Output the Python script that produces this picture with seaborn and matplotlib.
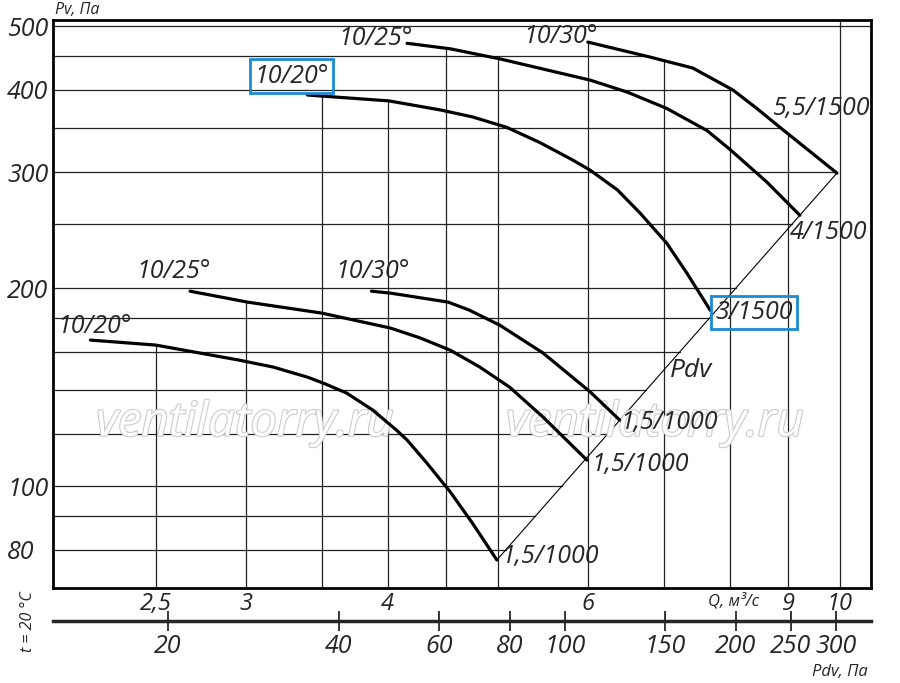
import numpy as np
import pandas as pd
import seaborn as sns
import matplotlib
matplotlib.use('Agg')
import matplotlib.pyplot as plt
import matplotlib.patheffects as pe
from matplotlib.ticker import NullLocator

# fan curves: Q in m3/s, Pv in Pa
a_q = [3.40, 4.01, 4.45, 4.75, 5.09, 5.44, 5.82, 6.03, 6.37, 6.67, 7.04, 7.33, 7.69]
a_p = [393, 385, 373, 364, 351, 333, 313, 302, 282, 260, 234, 211, 185]
b_q = [4.16, 4.54, 5.02, 6.03, 6.50, 7.04, 7.64, 8.00, 8.62, 9.22]
b_p = [471, 462, 446, 414, 397, 375, 347, 325, 290, 258]
c_q = [6.00, 6.80, 7.42, 8.05, 8.45, 8.91, 9.94]
c_p = [473, 449, 432, 400, 375, 348, 299]
d_q = [2.19, 2.50, 2.96, 3.17, 3.40, 3.51, 3.68, 3.88, 4.07, 4.16, 4.33, 4.54, 4.75, 4.99]
d_p = [166.7, 163.8, 155.4, 151.7, 146.4, 143.4, 138.5, 130.5, 121.7, 117.5, 108.4, 98.0, 87.8, 77.2]
e_q = [2.68, 3.01, 3.50, 4.02, 4.27, 4.54, 4.82, 5.12, 5.48, 5.99]
e_p = [197.8, 190.4, 183.2, 173.9, 168.0, 160.9, 151.7, 141.4, 127.3, 109.5]
f_q = [3.87, 4.02, 4.52, 4.72, 5.02, 5.48, 6.03, 6.40]
f_p = [197.8, 196.5, 190.4, 185.1, 175.6, 159.3, 139.0, 126.0]

start_labels = ['10/20°', '10/25°', '10/30°', '10/20°', '10/25°', '10/30°']
end_labels = ['3/1500', '4/1500', '5,5/1500', '1,5/1000', '1,5/1000', '1,5/1000']

# dynamic pressure line (end points of the curves)
pdv_q = [4.99, 9.94]
pdv_p = [77.2, 299.1]
pdv_k = 3.05   # Pdv = k * Q^2 for the lower scale

q_ticks = [2.5, 3, 4, 6, 9, 10]
q_ticklabels = ['2,5', '3', '4', '6', '9', '10']
q_grid = [2.5, 3, 3.5, 4, 4.5, 5, 6, 7, 8, 9, 10]
p_ticks = [80, 100, 200, 300, 400, 500]
p_grid = [80, 90, 100, 120, 140, 160, 180, 200, 250, 300, 350, 400, 450, 500]
pdv_ticks = [20, 40, 60, 80, 100, 150, 200, 250, 300]

curves = [(a_q, a_p), (b_q, b_p), (c_q, c_p), (d_q, d_p), (e_q, e_p), (f_q, f_p)]

sns.set_style('white')
plt.rcParams['font.family'] = ['Open Sans', 'DejaVu Sans']
plt.rcParams['font.style'] = 'italic'

fig = plt.figure(figsize=(9, 6.83), dpi=100)
ax = fig.add_axes([53 / 900, 95 / 683, 818 / 900, 568 / 683])
ax.set_xscale('log')
ax.set_yscale('log')
xmin, xmax = 2.03, 10.65
ymin, ymax = 70, 511

df = pd.concat([pd.DataFrame({'curve': i, 'Q': q, 'P': p})
                for i, (q, p) in enumerate(curves)])
sns.lineplot(data=df, x='Q', y='P', units='curve', estimator=None, sort=False,
             color='black', lw=2.3, ax=ax, zorder=4)


def diag_q(p):
    lq, lp = np.log10(pdv_q), np.log10(pdv_p)
    s = (lp[1] - lp[0]) / (lq[1] - lq[0])
    return 10 ** (lq[0] + (np.log10(p) - lp[0]) / s)


# grid only inside the working area (under curves, left of Pdv line)
for q in q_grid:
    tops = [10 ** np.interp(np.log10(q), np.log10(cq), np.log10(cp))
            for cq, cp in curves if cq[0] <= q <= cq[-1]]
    top = max(tops) if tops else ymax
    ax.plot([q, q], [ymin, top], color='#222222', lw=0.9, zorder=1)

for p in p_grid:
    ends = []
    for cq, cp in curves:
        if p > cp[0]:
            continue
        if p >= cp[-1]:
            ends.append(10 ** np.interp(np.log10(p), np.log10(cp[::-1]), np.log10(cq[::-1])))
        else:
            ends.append(diag_q(p))
    right = max(ends) if ends else xmax
    ax.plot([xmin, right], [p, p], color='#222222', lw=0.9, zorder=1)

ax.plot(pdv_q, pdv_p, color='black', lw=0.8, zorder=2)

ax.set_xlim(xmin, xmax)
ax.set_ylim(ymin, ymax)
ax.set_xlabel('')
ax.set_ylabel('')

ax.set_yticks(p_ticks)
ax.set_yticklabels([str(v) for v in p_ticks])
ax.yaxis.set_minor_locator(NullLocator())
ax.tick_params(axis='y', length=0, pad=33, labelsize=18)
for lbl in ax.get_yticklabels():
    lbl.set_ha('left')

ax.set_xticks(q_ticks)
ax.set_xticklabels(q_ticklabels)
ax.xaxis.set_minor_locator(NullLocator())
ax.tick_params(axis='x', length=0, pad=3, labelsize=17)

for s in ax.spines.values():
    s.set_visible(True)
    s.set_color('black')
    s.set_linewidth(2)

sec = ax.secondary_xaxis(-0.058, functions=(lambda q: pdv_k * q ** 2,
                                             lambda p: np.sqrt(np.clip(p, 1e-9, None) / pdv_k)))
sec.set_xticks(pdv_ticks)
sec.set_xticklabels([str(v) for v in pdv_ticks])
sec.xaxis.set_minor_locator(NullLocator())
sec.tick_params(axis='x', direction='inout', length=15, width=1.3, pad=2, labelsize=18)
sec.spines['bottom'].set_linewidth(2.5)

# curve labels
start_off = [(-16, 19), (-31, 5), (-27, 6), (4, 14), (-16, 20), (1, 20)]
end_off = [(44, -2), (29, -17), (-16, 65), (53, 4), (53, -4), (49, -2)]
boxed = {0}
box = dict(boxstyle='square,pad=0.17', fc='none', ec='#1a8ad4', lw=2)
for i, (cq, cp) in enumerate(curves):
    ax.annotate(start_labels[i], xy=(cq[0], cp[0]), xytext=start_off[i],
                textcoords='offset pixels', ha='center', va='center', fontsize=18,
                bbox=box if i in boxed else None, zorder=5)
    ax.annotate(end_labels[i], xy=(cq[-1], cp[-1]), xytext=end_off[i],
                textcoords='offset pixels', ha='center', va='center', fontsize=18,
                bbox=box if i in boxed else None, zorder=5)

ax.annotate('Pdv', xy=(diag_q(150), 150), xytext=(27, 0), textcoords='offset pixels',
            ha='center', va='center', fontsize=19)

for xc in (245, 655):
    ax.text(xc / 900, 1 - 423 / 683, 'ventilatorry.ru', transform=fig.transFigure,
            fontsize=34, color='white', ha='center', va='center', zorder=3,
            path_effects=[pe.withStroke(linewidth=1.6, foreground='#cccccc')])

fig.text(55 / 900, 1 - 10 / 683, 'Pv, Па', fontsize=11.5, ha='left', va='center')
fig.text(734 / 900, 1 - 601 / 683, 'Q, м³/с', fontsize=12, ha='center', va='center')
fig.text(840 / 900, 1 - 672 / 683, 'Pdv, Па', fontsize=12, ha='center', va='center')
fig.text(28 / 900, 1 - 622 / 683, 't = 20 °C', fontsize=11.5, ha='center', va='center',
         rotation=90)

fig.savefig('out.png', dpi=100)
